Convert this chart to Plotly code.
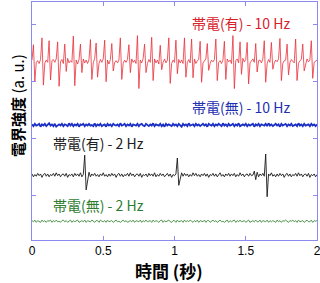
import numpy as np
import plotly.graph_objects as go

# ---------------- data (offsets in tenths of a unit) ----------------
red_noise = [
    2, -3, 4, -2, 1, -4, 3, -1, 5, -3, 2, -2, 4, -5, 1, 3, -2, 4, -3, 2,
    -1, 3, -4, 2, -2, 5, -3, 1, -2, 4, -1, 2, -5, 3, -2, 1, 4, -3, 2, -4,
    3, -2, 1, -3, 5, -1, 2, -4, 3, -2, 4, -3, 1, 2, -5, 3, -1, 4, -2, 1,
    -3, 2, -1, 5, -4, 2, -2, 3, -3, 1, 4, -2, 2, -4, 3, -1, 2, -3, 5, -2,
    1, -4, 3, -2, 2, -1, 4, -3, 2, -5, 3, 1, -2, 4, -3, 2, -1, 3, -4, 2,
    -2, 4, -1, 3, -3, 2, -4, 1, 5, -2, 3, -3, 2, -1, 4, -4, 1, 3, -2, 2,
    -3, 1, 4, -2, 3, -4, 2, -1, 3, -3, 5, -2, 1, -4, 2, 3, -2, 4, -1, 2,
    -4, 3, -2, 1, 4, -3, 2, -2, 5, -1, 3, -4, 2, -3, 1, 4, -2, 3, -3, 1,
    2, -3, 4, -1, 2, -4, 3, -2, 1, 5, -3, 2, -1, 4, -2, 3, -4, 1, 2, -3,
    4, -2, 3, -1, -3, 2, 5, -4, 1, 3, -2, 2, -3, 4, -1, 2, -4, 3, -2, 1,
    2,
]
red_spike_idx = [1, 7, 12, 18, 23, 29, 34, 41, 45, 51, 56, 62, 68, 74, 79, 84, 90, 96,
                 101, 107, 112, 118, 123, 129, 135, 141, 146, 151, 157, 163, 168, 174,
                 179, 185, 190, 196]
red_spike_up = [32, 42, 32, 37, 28, 40, 32, 40, 33, 40, 32, 42, 32, 42, 32, 40, 25, 42,
                33, 40, 37, 37, 33, 42, 32, 42, 32, 37, 28, 37, 32, 42, 33, 37, 32, 40]
red_spike_down = [39, 47, 28, 46, 16, 42, 21, 33, 30, 37, 21, 37, 21, 47, 21, 33, 16, 42,
                  21, 33, 28, 39, 19, 39, 30, 46, 21, 42, 16, 39, 19, 37, 28, 39, 19, 33]

blue_noise = [
    1, -2, 2, -1, 0, 2, -3, 1, -1, 2, -2, 0, 3, -1, 1, -2, 2, -3, 0, 1,
    -1, 2, -2, 1, 0, -2, 3, -1, 2, -2, 1, -1, 2, -3, 1, 0, 2, -2, 1, -1,
    2, -1, 0, -2, 3, -2, 1, -1, 2, -2, 0, 1, -3, 2, -1, 1, -2, 2, 0, -1,
    1, -2, 3, -1, 0, 2, -2, 1, -1, 2, -3, 1, 0, -1, 2, -2, 1, 2, -1, -2,
    2, 0, -2, 1, -1, 3, -2, 1, 0, -1, 2, -2, 1, -3, 2, -1, 1, 0, -2, 2,
    -1, 1, -2, 2, 0, -3, 2, -1, 1, -2, 3, -1, 0, 1, -2, 2, -1, 1, -2, 0,
    2, -1, 1, -3, 2, 0, -1, 2, -2, 1, -1, 2, 0, -2, 3, -1, 1, -2, 2, -1,
    0, 2, -2, 1, -1, 3, -2, 0, 1, -1, 2, -2, 1, -1, 0, 2, -3, 1, -1, 2,
    -2, 1, 0, -1, 2, -2, 3, -1, 1, -2, 0, 2, -1, 1, -3, 2, -1, 0, 2, -2,
    1, -1, 2, -2, 0, 1, -2, 3, -1, 1, -2, 2, -1, 0, 1, -2, 2, -1, 1, -2,
    1,
]

black_noise = [
    2, -3, 1, -2, 3, -1, 2, -4, 1, 3, -2, 2, -3, 1, -1, 3, -2, 4, -1, 2,
    -3, 1, 2, -2, 3, -4, 1, -1, 2, -3, 3, -1, 2, -2, 4, -3, 1, 0, 6, -8,
    5, -3, 2, -1, 3, -2, 1, -3, 2, -1, 4, -2, 1, -3, 2, -2, 3, -1, 2, -4,
    1, 3, -2, 2, -3, 1, -1, 3, -2, 4, -1, 2, -3, 1, 2, -2, 3, -4, 1, -1,
    2, -3, 3, -1, 2, -2, 4, -3, 1, -2, 3, -1, 2, -3, 1, 3, -2, 2, -4, 1,
    -1, 2, 0, 5, -7, 4, -2, 3, -1, 2, -3, 1, -2, 4, -1, 3, -2, 1, -3, 2,
    -1, 3, -2, 2, -4, 1, -1, 3, -2, 2, -3, 1, 4, -2, 1, -3, 2, -1, 3, -2,
    2, -1, 3, -3, 1, -2, 4, -1, 2, -3, 1, 2, -2, 3, -1, 0, 7, -8, 5, -3,
    2, -1, 3, -2, 1, -3, 2, -1, 4, -2, 1, -3, 2, -2, 3, -1, 2, -4, 1, 3,
    -2, 2, -3, 1, -1, 3, -2, 4, -1, 2, -3, 1, 2, -2, 3, -4, 1, -1, 2, -3,
    1,
]
black_spike_idx = [37, 102, 164]
black_spike_up = [35, 30, 36]
black_spike_down = [32, 23, 35]

green_noise = [
    1, -1, 2, -2, 1, 0, -2, 2, -1, 1, -2, 1, 0, 2, -2, 1, -1, 2, -1, 0,
    -2, 1, 2, -1, 1, -2, 0, 2, -2, 1, -1, 1, 2, -2, 0, 1, -1, 2, -2, 1,
    0, -1, 2, -1, -2, 1, 1, -2, 2, 0, -1, 1, -2, 2, -1, 0, 1, -2, 1, 2,
    -1, 0, -2, 1, 2, -1, 1, -2, 0, 1, -1, 2, -2, 1, 0, -1, 2, -2, 1, -1,
    2, -1, 0, 1, -2, 2, -1, 1, 0, -2, 1, 2, -2, 1, -1, 0, 2, -1, -2, 1,
    1, -2, 2, -1, 0, 1, -2, 2, -1, 1, -1, 2, 0, -2, 1, -1, 2, -2, 1, 0,
    -1, 2, -2, 1, 1, -2, 0, 2, -1, 1, -2, 1, 2, -1, 0, -2, 1, 2, -2, 1,
    -1, 0, 2, -2, 1, -1, 2, -1, 0, 1, -2, 1, 2, -2, 0, 1, -1, 2, -1, -1,
    2, -2, 1, 0, -1, 2, -2, 1, -1, 1, 0, -2, 2, -1, 1, -2, 1, 0, 2, -1,
    -2, 1, 0, 2, -1, 1, -2, 2, -1, 0, 1, -2, 1, 2, -1, -1, 2, -2, 1, 0,
    1,
]

series_names = ["帯電(有) - 10 Hz", "帯電(無) - 10 Hz", "帯電(有) - 2 Hz", "帯電(無) - 2 Hz"]
series_base = [33.5, 22.3, 13.5, 5.4]
x_ticks = [0, 0.5, 1, 1.5, 2]
x_ticklabels = ["0", "0.5", "1", "1.5", "2"]


def build(noise, idx=None, up=None, down=None):
    v = np.array(noise, dtype=float)
    if idx is not None:
        for i, u, d in zip(idx, up, down):
            v[i] += u
            v[i + 1] -= d
    return v / 10.0


red = build(red_noise, red_spike_idx, red_spike_up, red_spike_down)
blue = build(blue_noise)
black = build(black_noise, black_spike_idx, black_spike_up, black_spike_down)
green = build(green_noise)

colors = ["#e8303a", "#1c2fc4", "#1a1a1a", "#3d8a3d"]
widths = [0.8, 1.8, 0.9, 0.9]
text_colors = ["#d8202a", "#1f2fb0", "#202020", "#2e7d2e"]

fig = go.Figure()
for vals, base, c, w in zip([red, blue, black, green], series_base, colors, widths):
    t = np.linspace(0, 2, len(vals))
    fig.add_trace(go.Scatter(x=t, y=base + vals, mode="lines",
                             line=dict(color=c, width=w), showlegend=False))

ann_pos = [(1.465, 40.2), (1.465, 25.4), (0.468, 19.1), (0.468, 8.25)]
for name, (ax, ay), tc in zip(series_names, ann_pos, text_colors):
    fig.add_annotation(x=ax, y=ay, xref="x", yref="y", text=name, showarrow=False,
                       xanchor="center", yanchor="middle",
                       font=dict(family="Noto Sans CJK JP", size=14, color=tc))

# axis titles placed as paper annotations
fig.add_annotation(x=(169 - 32) / 285, y=-30 / 238, xref="paper", yref="paper",
                   text="<b>時間</b> <b>(秒)</b>", showarrow=False,
                   xanchor="center", yanchor="middle",
                   font=dict(family="Noto Sans CJK JP", size=17, color="black"))
fig.add_annotation(x=-15 / 285, y=(240 - 106) / 238, xref="paper", yref="paper",
                   text="<b>電界強度</b> (a. u.)", showarrow=False, textangle=-90,
                   xanchor="center", yanchor="middle",
                   font=dict(family="Noto Sans CJK JP", size=15, color="black"))

frame = "#8a8af0"
fig.update_layout(
    width=320, height=283,
    margin=dict(l=32, r=3, t=2, b=43),
    paper_bgcolor="white", plot_bgcolor="white",
    font=dict(family="Liberation Sans", color="black"),
)
fig.update_xaxes(range=[0, 2], tickvals=x_ticks, ticktext=x_ticklabels,
                 ticks="inside", ticklen=4, tickcolor=frame,
                 showline=True, linecolor=frame, linewidth=1, mirror="ticks",
                 showgrid=False, zeroline=False, automargin=False,
                 ticklabeloverflow="allow",
                 tickfont=dict(family="Liberation Sans", size=12, color="black"))
fig.update_yaxes(range=[2.1, 43.9], tickvals=[10, 20, 30, 40], showticklabels=False,
                 ticks="inside", ticklen=4, tickcolor=frame,
                 showline=True, linecolor=frame, linewidth=1, mirror="ticks",
                 showgrid=False, zeroline=False, automargin=False)

fig.write_html("out.html", config={"displayModeBar": False},
               post_script="document.body.style.margin='0';"
                           "document.body.style.overflow='hidden';")
